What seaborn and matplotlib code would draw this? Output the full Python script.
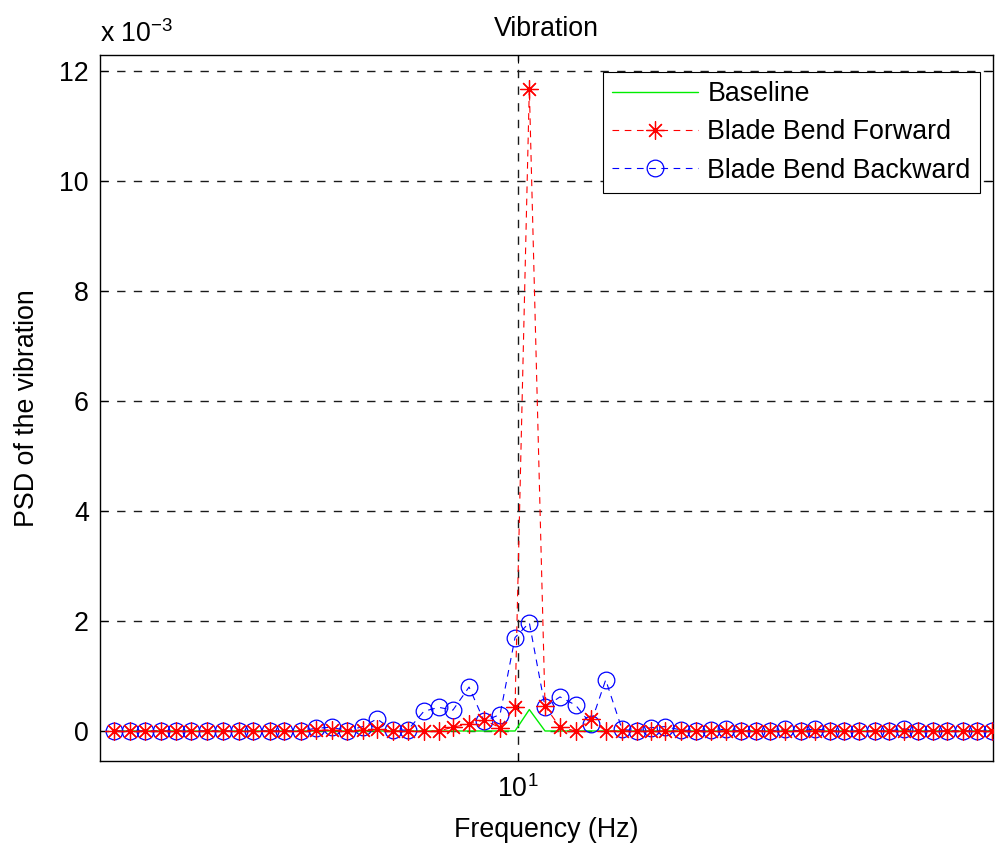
import matplotlib
matplotlib.use("Agg")
import matplotlib.pyplot as plt
import seaborn as sns
import pandas as pd
from matplotlib.ticker import FixedLocator, NullLocator, FuncFormatter

# ---- data (PSD values in units of 1e-3) ----
freq_hz = [2.121, 2.256, 2.389, 2.538, 2.692, 2.848, 3.032, 3.220, 3.423, 3.616,
           3.861, 4.074, 4.342, 4.605, 4.898, 5.182, 5.511, 5.821, 6.189, 6.555,
           6.970, 7.382, 7.789, 8.287, 8.779, 9.333, 9.886, 10.443, 11.092, 11.749,
           12.477, 13.217, 14.000, 14.907, 15.773, 16.643, 17.579, 18.669, 19.800, 20.949,
           22.216, 23.506, 24.927, 26.303, 27.861, 29.592, 31.261, 33.113, 34.941, 37.054,
           39.355, 41.575, 43.988, 46.416, 49.110, 51.820, 55.102, 58.277, 61.589]

baseline_e3 = [0, 0, 0, 0, 0, 0, 0, 0, 0, 0,
               0, 0, 0, 0, 0, 0, 0, 0, 0, 0,
               0, 0, 0, 0, 0, 0, 0, 0.39, 0, 0,
               0, 0, 0, 0, 0, 0, 0, 0, 0, 0,
               0, 0, 0, 0, 0, 0, 0, 0, 0, 0,
               0, 0, 0, 0, 0, 0, 0, 0, 0]

forward_e3 = [0, 0, 0, 0, 0, 0, 0, 0, 0, 0,
              0, 0, 0, 0.01, 0.02, 0, 0.02, 0.03, 0, 0,
              0, 0, 0.07, 0.13, 0.20, 0.06, 0.44, 11.69, 0.45, 0.07,
              0, 0.21, 0, 0, 0, 0, 0, 0, 0, 0,
              0, 0, 0, 0, 0, 0, 0, 0, 0, 0,
              0, 0, 0, 0, 0, 0, 0, 0, 0]

backward_e3 = [0, 0, 0, 0, 0, 0, 0, 0, 0, 0,
               0, 0, 0, 0.05, 0.07, 0, 0.08, 0.22, 0.01, 0.02,
               0.36, 0.43, 0.38, 0.80, 0.18, 0.30, 1.70, 1.97, 0.44, 0.62,
               0.47, 0.13, 0.93, 0.03, 0, 0.06, 0.08, 0.02, 0, 0.02,
               0.03, 0, 0, 0, 0.03, 0, 0.04, 0, 0, 0,
               0, 0, 0.04, 0, 0, 0, 0, 0, 0]

series_names = ["Baseline", "Blade Bend Forward", "Blade Bend Backward"]
y_ticks_e3 = [0, 2, 4, 6, 8, 10, 12]
x_ticks = [10]
scale = 1e-3

# ---- style ----
sns.set_style("ticks")
plt.rcParams['font.family'] = ['Liberation Sans', 'DejaVu Sans']
plt.rcParams['mathtext.fontset'] = 'custom'
plt.rcParams['mathtext.rm'] = 'Liberation Sans'
plt.rcParams['mathtext.it'] = 'Liberation Sans:italic'
plt.rcParams['mathtext.bf'] = 'Liberation Sans:bold'
plt.rcParams['xtick.direction'] = 'in'
plt.rcParams['ytick.direction'] = 'in'
for k in ['text.color', 'axes.labelcolor', 'xtick.color', 'ytick.color',
          'xtick.labelcolor', 'ytick.labelcolor']:
    plt.rcParams[k] = 'black'
FS = 19.3

df = pd.DataFrame({
    "freq": freq_hz,
    "baseline": [v * scale for v in baseline_e3],
    "forward": [v * scale for v in forward_e3],
    "backward": [v * scale for v in backward_e3],
})

fig = plt.figure(figsize=(9.99, 8.43), dpi=100)
ax = fig.add_axes([100 / 999, 82 / 843, 893 / 999, 706 / 843])

sns.lineplot(data=df, x="freq", y="baseline", ax=ax, color="#00ee00",
             linewidth=1.0, label=series_names[0], zorder=2, sort=False)
sns.lineplot(data=df, x="freq", y="backward", ax=ax, color="blue",
             linewidth=0.8, linestyle=(0, (6, 5)), marker="o", markersize=12,
             markerfacecolor="none", markeredgecolor="blue", markeredgewidth=0.9,
             label=series_names[2], zorder=3, sort=False)
sns.lineplot(data=df, x="freq", y="forward", ax=ax, color="red",
             linewidth=0.8, linestyle=(0, (6, 5)), marker=(8, 2, 0), markersize=13,
             markeredgecolor="red", markeredgewidth=0.9,
             label=series_names[1], zorder=4, sort=False)

ax.set_xscale("log")
ax.set_xlim(2.010, 61.906)
ax.set_ylim(-0.546e-3, 12.30e-3)
ax.xaxis.set_major_locator(FixedLocator(x_ticks))
ax.xaxis.set_minor_locator(NullLocator())
ax.yaxis.set_major_locator(FixedLocator([t * scale for t in y_ticks_e3]))
ax.yaxis.set_major_formatter(FuncFormatter(lambda v, p: f"{v / scale:g}"))
ax.tick_params(axis="both", which="both", labelsize=FS, length=6, width=0.8,
               top=True, right=True, color="k", labelcolor="k")
ax.tick_params(axis="y", pad=8)
ax.tick_params(axis="x", pad=10)

ax.grid(True, which="major", axis="both", color="0.1", linestyle=(0, (6, 6)), linewidth=1.0)
ax.set_axisbelow(True)
for s in ax.spines.values():
    s.set_color("k")
    s.set_linewidth(1.0)
    s.set_visible(True)

ax.set_title("Vibration", fontsize=FS, pad=14, color="k")
ax.set_xlabel("Frequency (Hz)", fontsize=FS, labelpad=10, color="k")
ax.set_ylabel("PSD of the vibration", fontsize=FS, labelpad=14, color="k")

fig.text(100 / 999, 1 - 42 / 843, "x 10$^{-3}$", fontsize=FS, ha="left",
         va="baseline", color="k")

handles, labels = ax.get_legend_handles_labels()
order = [labels.index(n) for n in series_names]
leg = ax.legend([handles[i] for i in order], [labels[i] for i in order],
                loc="upper right", bbox_to_anchor=((980 - 100) / 893, (761 - 72) / 706),
                fontsize=FS, frameon=True, fancybox=False, edgecolor="k",
                framealpha=1, handlelength=3.2, handletextpad=0.35,
                labelspacing=0.45, borderpad=0.35, borderaxespad=0, numpoints=1)
leg.get_frame().set_linewidth(0.8)
for t in leg.get_texts():
    t.set_color("k")

fig.savefig("out.png", dpi=100, facecolor="white")
